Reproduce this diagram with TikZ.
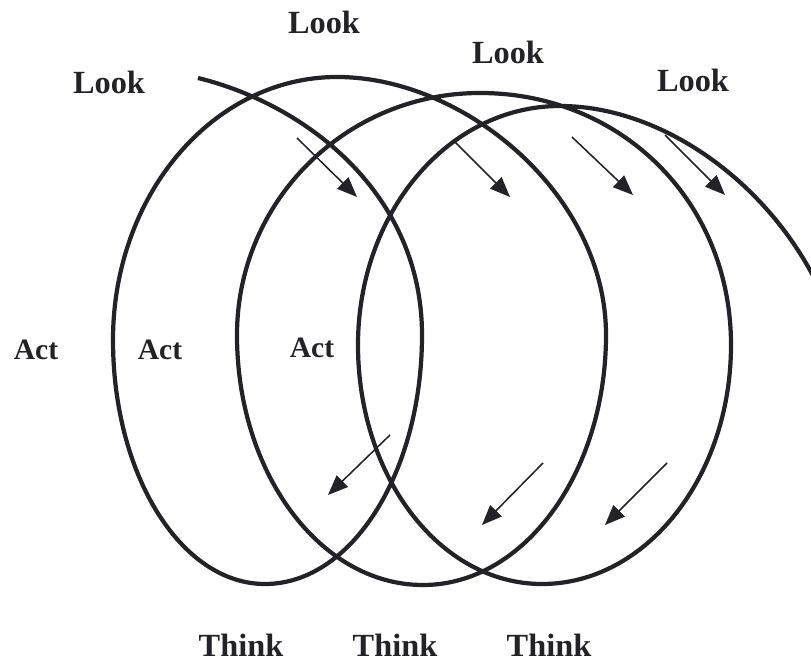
\documentclass[tikz,border=0pt]{standalone}
\usepackage{fontspec}
\setmainfont{Liberation Serif}
\usepackage{xcolor}
\usetikzlibrary{arrows.meta}

\definecolor{inkdark}{HTML}{222228}

\begin{document}
\begin{tikzpicture}[
    x=0.025cm, y=-0.025cm,
    font=\bfseries\fontsize{23}{27}\selectfont,
    coil/.style={draw=inkdark, line width=3pt},
    flow/.style={-{Triangle[length=5mm,width=4mm]}, draw=inkdark, line width=1.1pt},
    phase/.style={text=inkdark, inner sep=0pt},
    actlabel/.style={phase, font=\bfseries\fontsize{21}{25}\selectfont}
]

% =========================================================
% Frame
% =========================================================
\useasboundingbox (0,0) rectangle (811,662);
\clip (0,0) rectangle (811,662);

% =========================================================
% Labels
% =========================================================
\node[phase] (look0) at (109,82) {Look};
\node[phase] (look1) at (324,22) {Look};
\node[phase] (look2) at (508,52) {Look};
\node[phase] (look3) at (693,80) {Look};

\node[actlabel] (act0) at (36,350) {Act};
\node[actlabel] (act1) at (160,350) {Act};
\node[actlabel] (act2) at (312,348) {Act};

\node[phase] (think1) at (241,645) {Think};
\node[phase] (think2) at (395,645) {Think};
\node[phase] (think3) at (549,645) {Think};

% =========================================================
% The spiral
% =========================================================
\draw[coil] (198,78)
    .. controls (308,105) and (422,195) .. (422,335)   % first loop
    .. controls (422,472) and (352,584) .. (265,584)
    .. controls (181,584) and (113,475) .. (113,340)
    .. controls (113,195) and (213,77) .. (337,77)
    .. controls (465,77) and (606,195) .. (606,335)    % second loop
    .. controls (606,473) and (524,585) .. (423,585)
    .. controls (320,585) and (237,473) .. (237,335)
    .. controls (237,201) and (346,93) .. (480,93)
    .. controls (620,93) and (731,200) .. (731,345)    % third loop
    .. controls (731,477) and (646,584) .. (542,584)
    .. controls (440,584) and (358,477) .. (358,345)
    .. controls (358,213) and (448,106) .. (560,106)
    .. controls (700,106) and (850,250) .. (850,420);  % runs off the page

% =========================================================
% Direction arrows
% =========================================================
\foreach \i/\sx/\sy/\ex/\ey in {1/297/138/357/197, 2/453/140/510/197,
        3/572/137/633/195, 4/665/135/725/195, 5/390/435/328/495,
        6/543/463/482/525, 7/667/463/605/525}{
    \coordinate (from\i) at (\sx,\sy);
    \coordinate (to\i) at (\ex,\ey);
    \draw[flow] (from\i) -- (to\i);
}

\end{tikzpicture}
\end{document}
